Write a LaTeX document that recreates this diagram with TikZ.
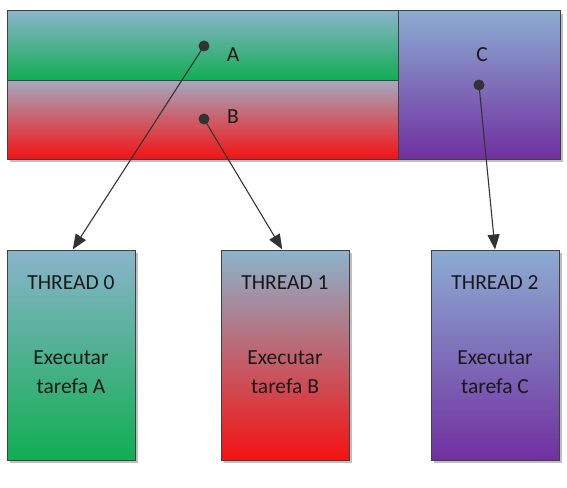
\documentclass[tikz,border=0pt]{standalone}
\usepackage{fontspec}
\setmainfont{Carlito}
\usetikzlibrary{arrows.meta,shadows}
\definecolor{lblue}{HTML}{8AB4CC}
\definecolor{lblueb}{HTML}{A4A9C0}
\definecolor{lbluec}{HTML}{8CACD2}
\definecolor{gr}{HTML}{10AE52}
\definecolor{rd}{HTML}{F41212}
\definecolor{pu}{HTML}{7030A0}
\definecolor{edge}{HTML}{404040}
\definecolor{dotc}{HTML}{333333}
\tikzset{
  part/.style={draw=edge, line width=1pt},
  tbox/.style={draw=edge, line width=1pt, minimum width=128pt, minimum height=210pt, inner sep=0pt,
    drop shadow={shadow xshift=3pt, shadow yshift=-3pt, fill=black, opacity=0.25}},
  txt/.style={font=\fontsize{21.5}{29}\selectfont, text=black!90, align=center, inner sep=0pt},
  dotn/.style={circle, fill=dotc, minimum size=11pt, inner sep=0pt},
  conn/.style={draw=dotc, line width=1.1pt, -{Triangle[length=15pt,width=12pt]}, shorten >=-0.5pt}
}
\begin{document}
\begin{tikzpicture}[x=1pt,y=-1pt]
\useasboundingbox (0,0) rectangle (567,487);
% shadow of top strip
\fill[black, opacity=0.25] (10,14) rectangle (563,162);
% top strip parts
\path[part, top color=lblue, bottom color=gr] (7,11) rectangle (398,80);
\path[part, top color=lblueb, bottom color=rd] (7,80) rectangle (398,159);
\path[part, top color=lbluec, bottom color=pu] (398,11) rectangle (560,159);
\node[dotn] (da) at (204,46) {};
\node[dotn] (db) at (204,119) {};
\node[dotn] (dc) at (479,85) {};
\node[txt] (la) at (233,55) {A};
\node[txt] (lb) at (233,117) {B};
\node[txt] (lc) at (482,55) {C};
% thread boxes
\node[tbox, top color=lblue, bottom color=gr] (t0) at (71,355) {};
\node[tbox, top color=lblue, bottom color=rd] (t1) at (285,355) {};
\node[tbox, top color=lbluec, bottom color=pu] (t2) at (495,355) {};
\node[txt] (t0h) at (71,283) {THREAD 0};
\node[txt] (t1h) at (285,283) {THREAD 1};
\node[txt] (t2h) at (495,283) {THREAD 2};
\node[txt] (t0b) at (71,372) {Executar\\tarefa A};
\node[txt] (t1b) at (285,372) {Executar\\tarefa B};
\node[txt] (t2b) at (495,372) {Executar\\tarefa C};
% connectors
\coordinate (ea) at (73,249);
\coordinate (eb) at (282,249);
\coordinate (ec) at (495,249);
\draw[conn] (da.center) -- (ea);
\draw[conn] (db.center) -- (eb);
\draw[conn] (dc.center) -- (ec);
\end{tikzpicture}
\end{document}
